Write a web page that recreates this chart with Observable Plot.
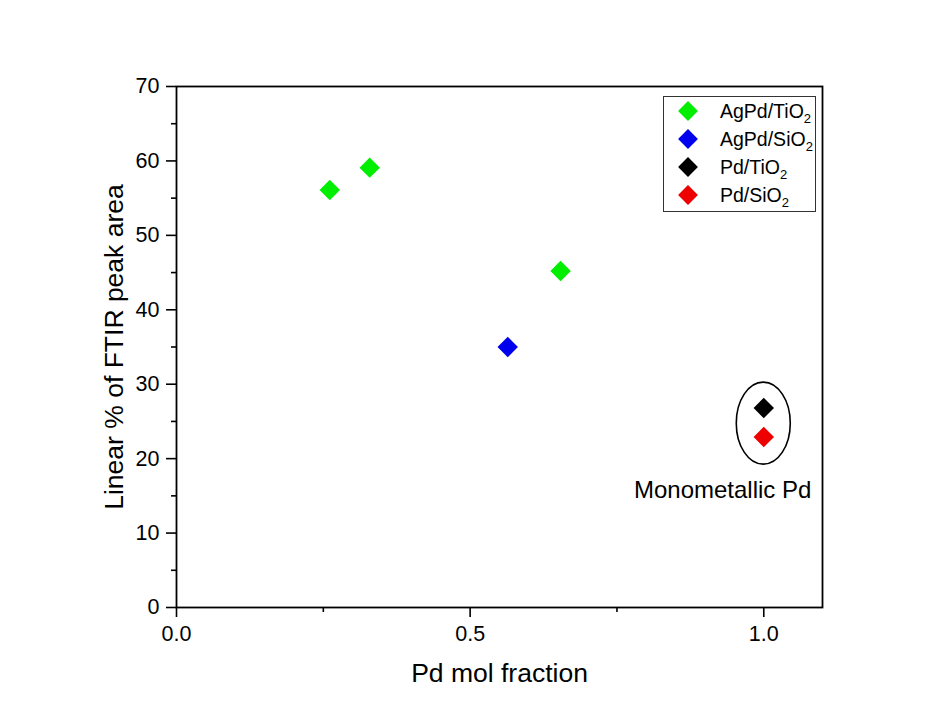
<!DOCTYPE html>
<html><head><meta charset="utf-8">
<script src="https://cdn.jsdelivr.net/npm/d3@7"></script>
<script src="https://cdn.jsdelivr.net/npm/@observablehq/plot@0.6"></script>
<style>
body{margin:0;background:#fff;font-family:"Liberation Sans",Arial,sans-serif;}
#wrap{position:relative;width:938px;height:719px;}
#legend{position:absolute;left:663px;top:96px;width:153px;height:116px;border:1px solid #333;background:#fff;box-sizing:border-box;font-size:19.5px;color:#000;}
#legend .row{position:absolute;left:0;height:22px;display:flex;align-items:center;}
#legend .d{width:14px;height:14px;transform:rotate(45deg);margin-left:17px;margin-right:25px;}
sub{font-size:13px;vertical-align:-5px;line-height:0;}
</style></head><body>
<div id="wrap"></div>
<script>
const series = ["AgPd/TiO2","AgPd/SiO2","Pd/TiO2","Pd/SiO2"];
const seriesLabels = ["AgPd/TiO<sub>2</sub>","AgPd/SiO<sub>2</sub>","Pd/TiO<sub>2</sub>","Pd/SiO<sub>2</sub>"];
const colors = ["#00ee00","#0000ee","#000000","#ee0000"];
const xFrac = [0.261, 0.329, 0.654, 0.564, 1.0, 1.0];
const yArea = [56.1, 59.1, 45.2, 35.0, 26.8, 22.9];
const seriesOf = ["AgPd/TiO2","AgPd/TiO2","AgPd/TiO2","AgPd/SiO2","Pd/TiO2","Pd/SiO2"];
const xMajor = [0, 0.5, 1.0];
const xMajorLabels = ["0.0","0.5","1.0"];
const xMinor = [0.25, 0.75];
const yMajor = [0,10,20,30,40,50,60,70];
const yMinor = [5,15,25,35,45,55,65];
const annot = {x: 1.0, y: 24.7, text: "Monometallic Pd", tx: 0.93, ty: 15.7};

const data = xFrac.map((x,i)=>({x, y:yArea[i], s:seriesOf[i]}));

const plot = Plot.plot({
  width: 938, height: 719,
  marginLeft: 176, marginRight: 116, marginTop: 86, marginBottom: 112,
  style: {fontFamily: '"Liberation Sans", Arial, sans-serif', fontSize: "21.5px", color: "#000", background: "#fff"},
  x: {domain: [0, 1.1]},
  y: {domain: [0, 70]},
  color: {domain: series, range: colors},
  marks: [
    Plot.axisX({ticks: xMajor, tickFormat: (d)=>xMajorLabels[xMajor.indexOf(d)], tickSize: 10, tickPadding: 8, strokeWidth: 1.6, label: null, fontSize: 21.5}),
    Plot.axisX({ticks: xMinor, tickSize: 5, text: null, strokeWidth: 1.6, label: null}),
    Plot.axisY({ticks: yMajor, tickSize: 10, tickPadding: 7, strokeWidth: 1.6, label: null, fontSize: 21.5}),
    Plot.axisY({ticks: yMinor, tickSize: 5, text: null, strokeWidth: 1.6, label: null}),
    Plot.frame({stroke: "#000", strokeWidth: 1.8}),
    Plot.dot(data, {x: "x", y: "y", fill: "s", symbol: "diamond2", r: 9.2, stroke: null}),
    function(index, scales, values, dims, ctx) {
      const g = d3.create("svg:g");
      g.append("ellipse")
        .attr("cx", scales.x(annot.x)).attr("cy", scales.y(annot.y))
        .attr("rx", 27).attr("ry", 41)
        .attr("fill", "none").attr("stroke", "#000").attr("stroke-width", 1.6);
      return g.node();
    },
    Plot.text([annot], {x: "tx", y: "ty", text: "text", fontSize: 24, fill: "#000"}),
    Plot.text(["Pd mol fraction"], {frameAnchor: "bottom", dy: 74, fontSize: 26.5, fill: "#000"}),
    Plot.text(["Linear % of FTIR peak area"], {frameAnchor: "left", textAnchor: "middle", dx: -62, rotate: -90, fontSize: 26.5, fill: "#000"})
  ]
});
const wrap = document.getElementById("wrap");
wrap.appendChild(plot);
const leg = document.createElement("div");
leg.id = "legend";
series.forEach((s,i)=>{
  const r = document.createElement("div");
  r.className = "row";
  r.style.top = (3 + i*28) + "px";
  r.innerHTML = `<div class="d" style="background:${colors[i]}"></div><span>${seriesLabels[i]}</span>`;
  leg.appendChild(r);
});
wrap.appendChild(leg);
</script>
</body></html>
